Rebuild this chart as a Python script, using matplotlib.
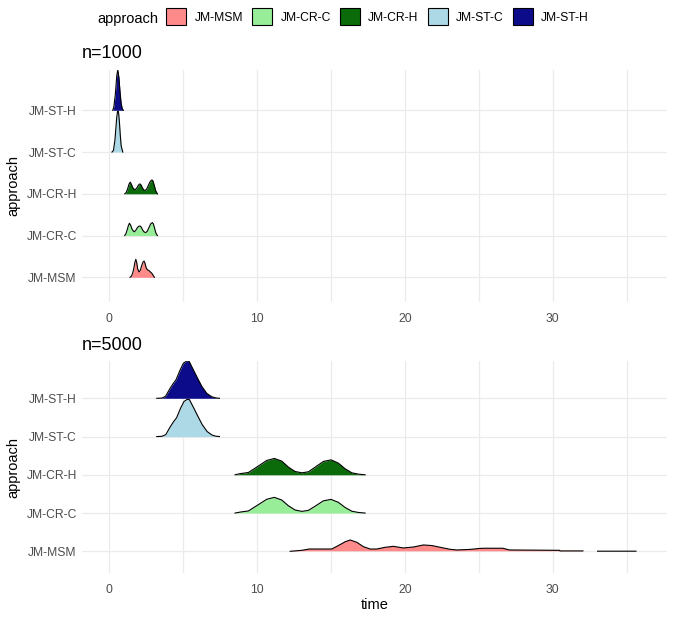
import numpy as np
import matplotlib.pyplot as plt
from matplotlib.patches import Patch

plt.rcParams['font.family'] = ['Liberation Sans', 'DejaVu Sans']

approaches = ["JM-MSM", "JM-CR-C", "JM-CR-H", "JM-ST-C", "JM-ST-H"]
fills = ["#FF8A8A", "#98EE98", "#0B6B0B", "#ADD8E6", "#0C0C8B"]
x_ticks = [0, 10, 20, 30]

# ridge heights, in row units (1 = distance between rows)
# --- n=1000
t1000_msm = [1.40, 1.50, 1.58, 1.66, 1.73, 1.79, 1.85, 1.92, 2.01, 2.10, 2.18, 2.27, 2.35, 2.42, 2.50, 2.58, 2.64, 2.72, 2.80, 2.87, 2.96, 3.05]
h1000_msm = [0, 0.03, 0.10, 0.22, 0.36, 0.43, 0.36, 0.20, 0.128, 0.17, 0.27, 0.36, 0.39, 0.33, 0.22, 0.18, 0.17, 0.15, 0.12, 0.10, 0.05, 0]

t1000_crc = [1.04, 1.12, 1.21, 1.29, 1.36, 1.44, 1.53, 1.62, 1.69, 1.78, 1.88, 1.98, 2.08, 2.16, 2.26, 2.36, 2.46, 2.56, 2.68, 2.80, 2.91, 2.98, 3.06, 3.15, 3.25]
h1000_crc = [0, 0.04, 0.14, 0.24, 0.295, 0.25, 0.16, 0.11, 0.09, 0.12, 0.18, 0.22, 0.23, 0.20, 0.13, 0.085, 0.072, 0.10, 0.19, 0.28, 0.31, 0.28, 0.18, 0.06, 0]

t1000_crh = [1.04, 1.14, 1.24, 1.33, 1.41, 1.49, 1.58, 1.67, 1.75, 1.84, 1.94, 2.02, 2.08, 2.15, 2.24, 2.34, 2.42, 2.52, 2.64, 2.76, 2.84, 2.89, 2.95, 3.04, 3.14, 3.25]
h1000_crh = [0, 0.03, 0.12, 0.23, 0.28, 0.23, 0.15, 0.11, 0.10, 0.13, 0.19, 0.23, 0.235, 0.21, 0.14, 0.09, 0.08, 0.11, 0.20, 0.29, 0.325, 0.33, 0.31, 0.20, 0.07, 0]

t1000_stc = [0.18, 0.28, 0.38, 0.44, 0.50, 0.55, 0.59, 0.63, 0.68, 0.74, 0.80, 0.91]
h1000_stc = [0, 0.04, 0.29, 0.56, 0.83, 0.96, 0.98, 0.93, 0.73, 0.41, 0.15, 0]

t1000_sth = [0.23, 0.30, 0.40, 0.45, 0.50, 0.57, 0.65, 0.72, 0.80, 0.88, 0.95]
h1000_sth = [0, 0.07, 0.36, 0.58, 0.82, 0.965, 0.78, 0.45, 0.16, 0.03, 0]

# --- n=5000
t5000_msm = [12.24, 13.02, 13.54, 15.05, 15.50, 15.96, 16.30, 16.75, 17.20, 17.65, 18.10, 18.67, 19.23, 19.90,
             20.58, 21.26, 21.83, 22.39, 23.07, 23.52, 24.42, 25.05, 25.37, 26.63, 27.08, 30.47, 30.50, 32.05,
             32.50, 33.04, 35.64]
h5000_msm = [0, 0.026, 0.06, 0.06, 0.15, 0.25, 0.296, 0.235, 0.12, 0.06, 0.06, 0.105, 0.13, 0.087,
             0.113, 0.166, 0.15, 0.105, 0.052, 0.035, 0.05, 0.075, 0.08, 0.08, 0.035, 0.026, 0.01, 0.01,
             np.nan, 0.003, 0.003]

t5000_crc = [8.51, 8.85, 9.41, 10.09, 10.65, 11.17, 11.67, 12.12, 12.57, 13.03, 13.47, 13.93, 14.49, 15.01, 15.50, 15.96, 16.41, 16.86, 17.31]
h5000_crc = [0, 0.025, 0.055, 0.22, 0.36, 0.41, 0.34, 0.19, 0.08, 0.044, 0.07, 0.18, 0.32, 0.357, 0.28, 0.145, 0.048, 0.015, 0]

t5000_crh = [8.51, 8.85, 9.41, 10.09, 10.65, 11.17, 11.67, 12.12, 12.57, 13.03, 13.47, 13.93, 14.49, 15.01, 15.50, 15.96, 16.41, 16.86, 17.31]
h5000_crh = [0, 0.03, 0.06, 0.23, 0.375, 0.427, 0.357, 0.20, 0.087, 0.052, 0.078, 0.20, 0.35, 0.39, 0.305, 0.157, 0.052, 0.017, 0]

t5000_stc = [3.21, 3.55, 3.82, 4.13, 4.35, 4.55, 4.82, 5.05, 5.28, 5.42, 5.72, 6.06, 6.29, 6.62, 6.95, 7.20, 7.45]
h5000_stc = [0, 0.005, 0.05, 0.26, 0.39, 0.49, 0.74, 0.915, 0.975, 0.965, 0.74, 0.48, 0.31, 0.13, 0.04, 0.01, 0]

t5000_sth = [3.21, 3.55, 3.80, 4.11, 4.33, 4.52, 4.79, 5.01, 5.24, 5.40, 5.69, 6.03, 6.26, 6.59, 6.93, 7.20, 7.45]
h5000_sth = [0, 0.005, 0.05, 0.26, 0.39, 0.49, 0.74, 0.915, 0.975, 0.965, 0.74, 0.48, 0.31, 0.13, 0.04, 0.01, 0]

panels = [
    ("n=1000", [(t1000_msm, h1000_msm), (t1000_crc, h1000_crc), (t1000_crh, h1000_crh),
                (t1000_stc, h1000_stc), (t1000_sth, h1000_sth)]),
    ("n=5000", [(t5000_msm, h5000_msm), (t5000_crc, h5000_crc), (t5000_crh, h5000_crh),
                (t5000_stc, h5000_stc), (t5000_sth, h5000_sth)]),
]

W, H = 675, 620
fig = plt.figure(figsize=(W / 100, H / 100), dpi=100)

# panel boxes in pixels: left, top, right, bottom
boxes = [(82, 70, 667, 301.7), (82, 361, 667, 573.3)]
ylims = [(0.416, 5.965), (0.425, 5.975)]
title_pads = [8.3, 7.6]
grid_c = "#EBEBEB"

for k, (title, ridges) in enumerate(panels):
    l, t, r, b = boxes[k]
    ax = fig.add_axes([l / W, 1 - b / H, (r - l) / W, (b - t) / H])
    for i, (tx, hy) in enumerate(ridges):
        base = i + 1
        tx = np.array(tx, dtype=float)
        top = base + np.array(hy, dtype=float)
        ax.fill_between(tx, base, top, color=fills[i], lw=0, zorder=10 - i)
        ax.plot(tx, top, color="black", lw=0.8, zorder=10 - i)

    ax.set_xlim(-1.85, 37.74)
    ax.set_ylim(*ylims[k])
    ax.set_xticks(x_ticks)
    ax.set_xticks([5, 15, 25, 35], minor=True)
    ax.set_yticks(range(1, len(approaches) + 1))
    ax.set_yticklabels(approaches)
    ax.set_axisbelow(True)
    ax.grid(which="major", color=grid_c, lw=0.9)
    ax.grid(which="minor", axis="x", color=grid_c, lw=0.9)
    for s in ax.spines.values():
        s.set_visible(False)
    ax.tick_params(which="both", length=0, labelsize=8.7, labelcolor="#4D4D4D")
    ax.tick_params(axis="x", pad=7.8)
    ax.tick_params(axis="y", pad=3.8)
    ax.set_title(title, loc="left", fontsize=13, pad=title_pads[k])
    ax.set_ylabel("approach", fontsize=10.5)
    ax.yaxis.set_label_coords((20.5 - l) / (r - l), 0.5)
    if k == 1:
        ax.set_xlabel("time", fontsize=10.5)
        ax.xaxis.set_label_coords(0.5, -24.7 / (b - t))

handles = [Patch(facecolor=c, edgecolor="black", lw=0.8) for c in fills]
fig.legend(handles, approaches, ncol=5, loc="upper left",
           bbox_to_anchor=(166 / W, 1 - 8.3 / H), frameon=False, fontsize=8.7,
           handlelength=1.68, handleheight=1.75, handletextpad=0.67,
           columnspacing=0.75, borderpad=0, borderaxespad=0)
fig.text(97 / W, 1 - 19.5 / H, "approach", fontsize=10.5, va="center", ha="left")

fig.savefig("out.png", dpi=100)
